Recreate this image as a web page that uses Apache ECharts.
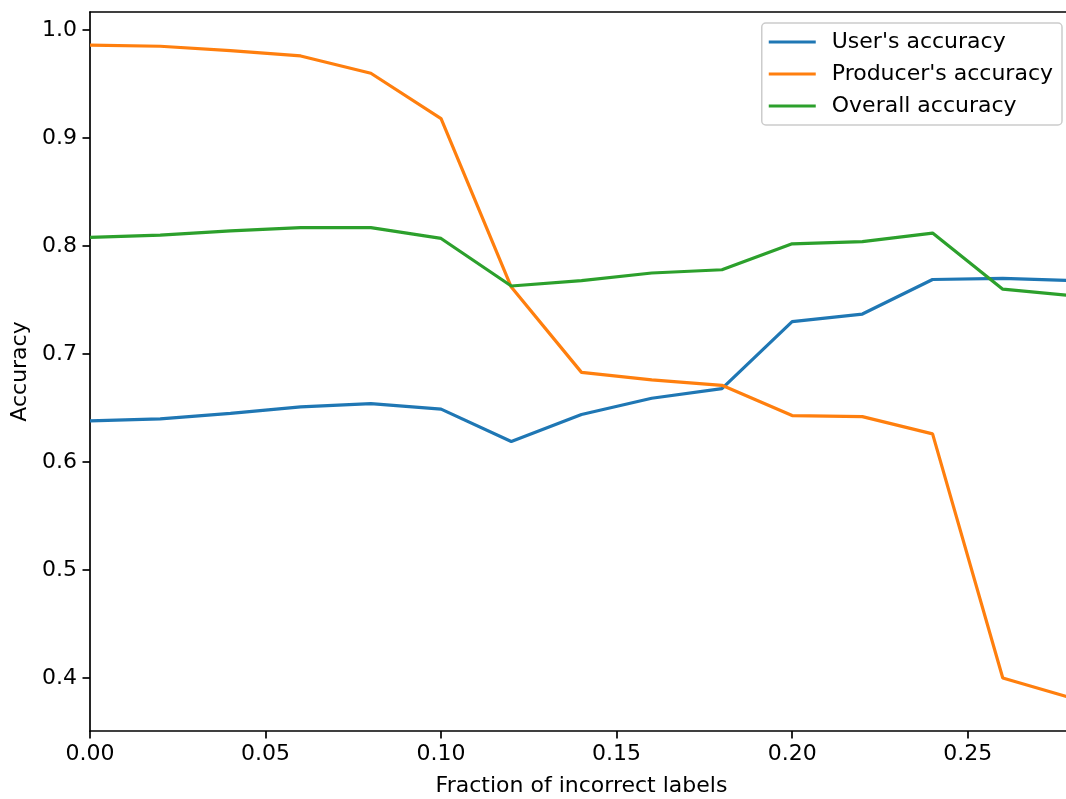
<!DOCTYPE html>
<html>
<head>
<meta charset="utf-8">
<script src="https://cdn.jsdelivr.net/npm/echarts@6/dist/echarts.min.js"></script>
<style>
  html, body { margin: 0; padding: 0; background: #ffffff; }
  #chart { width: 1066px; height: 799px; }
</style>
</head>
<body>
<div id="chart"></div>
<script>
// Fraction of incorrect training labels
const fractions = [0.00, 0.02, 0.04, 0.06, 0.08, 0.10, 0.12, 0.14, 0.16, 0.18, 0.20, 0.22, 0.24, 0.26, 0.28];
// Accuracy measures at each noise level
const usersAccuracy     = [0.638, 0.640, 0.645, 0.651, 0.654, 0.649, 0.619, 0.644, 0.659, 0.668, 0.730, 0.737, 0.769, 0.770, 0.768];
const producersAccuracy = [0.986, 0.985, 0.981, 0.976, 0.960, 0.918, 0.762, 0.683, 0.676, 0.671, 0.643, 0.642, 0.626, 0.400, 0.381];
const overallAccuracy   = [0.808, 0.810, 0.814, 0.817, 0.817, 0.807, 0.763, 0.768, 0.775, 0.778, 0.802, 0.804, 0.812, 0.760, 0.754];
// Tick values on both axes
const xTicks = [0.00, 0.05, 0.10, 0.15, 0.20, 0.25];
const yTicks = [0.4, 0.5, 0.6, 0.7, 0.8, 0.9, 1.0];

const FONT = 'DejaVu Sans';
const FS = 22;

function pairs(ys) { return fractions.map((x, i) => [x, ys[i]]); }

function lineSeries(name, ys, color) {
  return {
    name: name,
    type: 'line',
    data: pairs(ys),
    symbol: 'none',
    lineStyle: { color: color, width: 3.2 },
    itemStyle: { color: color },
    clip: true,
    animation: false
  };
}

const axisLineStyle = { color: '#000', width: 1.7 };

const chart = echarts.init(document.getElementById('chart'), null, { renderer: 'canvas' });
chart.setOption({
  backgroundColor: '#ffffff',
  animation: false,
  textStyle: { fontFamily: FONT },
  grid: { left: 90, right: -7, top: 12, bottom: 68, containLabel: false, outerBoundsMode: 'none' },
  legend: {
    orient: 'vertical',
    right: 4,
    top: 23,
    padding: [8, 9, 8, 7],
    itemGap: 10,
    itemWidth: 47,
    itemHeight: 3.2,
    icon: 'rect',
    backgroundColor: 'rgba(255,255,255,0.8)',
    borderColor: '#cccccc',
    borderWidth: 1.5,
    borderRadius: 4,
    textStyle: { fontFamily: FONT, fontSize: FS, color: '#000', lineHeight: 22, padding: [0, 0, 0, 11] },
    data: ["User's accuracy", "Producer's accuracy", 'Overall accuracy']
  },
  xAxis: [{
    type: 'value',
    min: 0,
    max: 0.28,
    name: 'Fraction of incorrect labels',
    nameLocation: 'middle',
    nameGap: 44,
    nameTextStyle: { fontFamily: FONT, fontSize: FS, color: '#000' },
    axisLine: { show: true, onZero: false, lineStyle: axisLineStyle },
    axisTick: { show: true, inside: false, length: 7.5, customValues: xTicks, lineStyle: axisLineStyle },
    axisLabel: { margin: 12, fontFamily: FONT, fontSize: FS, color: '#000', customValues: xTicks, formatter: v => v.toFixed(2) },
    splitLine: { show: false }
  }, {
    type: 'value',
    position: 'top',
    min: 0,
    max: 0.28,
    axisLine: { show: true, onZero: false, lineStyle: axisLineStyle },
    axisTick: { show: false },
    axisLabel: { show: false },
    splitLine: { show: false }
  }],
  yAxis: {
    type: 'value',
    min: 0.3509,
    max: 1.0167,
    name: 'Accuracy',
    nameLocation: 'middle',
    nameGap: 57,
    nameTextStyle: { fontFamily: FONT, fontSize: FS, color: '#000' },
    axisLine: { show: true, onZero: false, lineStyle: axisLineStyle },
    axisTick: { show: true, inside: false, length: 7.5, customValues: yTicks, lineStyle: axisLineStyle },
    axisLabel: { margin: 13, fontFamily: FONT, fontSize: FS, color: '#000', customValues: yTicks, formatter: v => v.toFixed(1) },
    splitLine: { show: false }
  },
  series: [
    lineSeries("User's accuracy", usersAccuracy, '#1f77b4'),
    lineSeries("Producer's accuracy", producersAccuracy, '#ff7f0e'),
    lineSeries('Overall accuracy', overallAccuracy, '#2ca02c')
  ]
});
</script>
</body>
</html>
